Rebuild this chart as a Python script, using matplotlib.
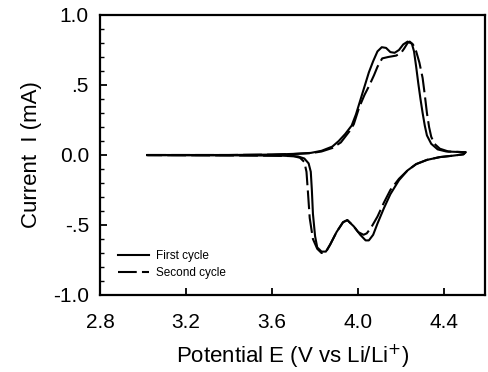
import matplotlib
matplotlib.use("Agg")
import matplotlib.pyplot as plt
from matplotlib.ticker import FixedLocator, FixedFormatter, MultipleLocator

# ---- data ----
E_first = [3.02, 3.20, 3.40, 3.60, 3.70, 3.78, 3.83, 3.88, 3.91, 3.94, 3.97, 3.99,
           4.01, 4.03, 4.05, 4.07, 4.09, 4.11, 4.13, 4.15, 4.17, 4.19, 4.21, 4.23,
           4.25, 4.26, 4.27, 4.28, 4.29, 4.30, 4.31, 4.32, 4.34, 4.37, 4.41, 4.46, 4.50,
           4.49, 4.44, 4.38, 4.32, 4.27, 4.23, 4.19, 4.15, 4.12, 4.09, 4.07, 4.05, 4.035,
           4.01, 3.98, 3.95, 3.93, 3.90, 3.87, 3.85, 3.83, 3.81, 3.80, 3.79, 3.785, 3.78,
           3.77, 3.75, 3.72, 3.65, 3.50, 3.30, 3.02]
I_first = [0.0, 0.0, 0.0, 0.003, 0.008, 0.015, 0.03, 0.06, 0.10, 0.15, 0.21, 0.29,
           0.39, 0.49, 0.59, 0.67, 0.74, 0.77, 0.765, 0.735, 0.73, 0.75, 0.79, 0.81,
           0.795, 0.74, 0.63, 0.51, 0.40, 0.30, 0.21, 0.14, 0.08, 0.04, 0.025, 0.022, 0.02,
           0.005, -0.005, -0.015, -0.035, -0.065, -0.11, -0.18, -0.28, -0.38, -0.49, -0.57, -0.61, -0.61,
           -0.57, -0.51, -0.465, -0.48, -0.55, -0.64, -0.69, -0.69, -0.66, -0.58, -0.42, -0.25, -0.12,
           -0.06, -0.025, -0.01, -0.005, -0.003, -0.002, -0.001]

E_second = [3.02, 3.20, 3.40, 3.60, 3.70, 3.78, 3.83, 3.88, 3.92, 3.96, 3.98, 4.005,
            4.03, 4.05, 4.074, 4.09, 4.112, 4.14, 4.177, 4.20, 4.214, 4.23, 4.24,
            4.255, 4.27, 4.285, 4.30, 4.31, 4.32, 4.33, 4.34, 4.355, 4.38, 4.42, 4.50,
            4.49, 4.44, 4.38, 4.32, 4.27, 4.23, 4.19, 4.15, 4.12, 4.09, 4.06, 4.04, 4.025,
            4.00, 3.98, 3.95, 3.93, 3.90, 3.87, 3.85, 3.83, 3.81, 3.79, 3.775, 3.767, 3.76,
            3.75, 3.73, 3.70, 3.60, 3.40, 3.02]
I_second = [0.0, 0.0, 0.0, 0.003, 0.007, 0.013, 0.025, 0.05, 0.09, 0.17, 0.22, 0.34,
            0.43, 0.49, 0.57, 0.63, 0.69, 0.70, 0.71, 0.73, 0.76, 0.80, 0.81,
            0.79, 0.74, 0.66, 0.55, 0.43, 0.30, 0.20, 0.13, 0.08, 0.045, 0.025, 0.02,
            0.005, -0.005, -0.015, -0.035, -0.065, -0.11, -0.17, -0.25, -0.34, -0.44, -0.52, -0.56, -0.57,
            -0.55, -0.51, -0.465, -0.48, -0.55, -0.64, -0.695, -0.70, -0.67, -0.60, -0.45, -0.27, -0.12,
            -0.05, -0.02, -0.008, -0.005, -0.003, -0.001]

x_ticks = [2.8, 3.2, 3.6, 4.0, 4.4]
x_tick_labels = ["2.8", "3.2", "3.6", "4.0", "4.4"]
y_ticks = [-1.0, -0.5, 0.0, 0.5, 1.0]
y_tick_labels = ["-1.0", "-.5", "0.0", ".5", "1.0"]
series_labels = ["First cycle", "Second cycle"]

plt.rcParams['font.family'] = ['Liberation Sans', 'DejaVu Sans']

fig = plt.figure(figsize=(4.89, 3.72), dpi=100)
ax = fig.add_axes([100/489, 1 - 295/372, 385/489, 280/372])

ax.plot(E_first, I_first, color='black', lw=1.5, solid_joinstyle='round',
        label=series_labels[0])
ax.plot(E_second, I_second, color='black', lw=1.5, dashes=(9, 2.5),
        label=series_labels[1])

ax.set_xlim(2.8, 4.59)
ax.set_ylim(-1.0, 1.0)

ax.xaxis.set_major_locator(FixedLocator(x_ticks))
ax.xaxis.set_major_formatter(FixedFormatter(x_tick_labels))
ax.yaxis.set_major_locator(FixedLocator(y_ticks))
ax.yaxis.set_major_formatter(FixedFormatter(y_tick_labels))
ax.yaxis.set_minor_locator(MultipleLocator(0.1))

for s in ax.spines.values():
    s.set_linewidth(1.6)

ax.tick_params(axis='both', which='major', direction='in', length=5, width=1.3,
               labelsize=15, top=False, right=False)
ax.tick_params(axis='x', which='major', pad=13)
ax.tick_params(axis='y', which='major', pad=8)
ax.tick_params(axis='y', which='minor', direction='in', length=3, width=1.0, right=False)

ax.set_xlabel("Potential E (V vs Li/Li$^{+}$)", fontsize=16, labelpad=8)
ax.set_ylabel("Current  I (mA)", fontsize=16, labelpad=8)

leg = ax.legend(loc='lower left', bbox_to_anchor=(0.02, 0.02), frameon=False,
                fontsize=8.5, handlelength=2.6, handletextpad=0.6, labelspacing=0.4)

fig.savefig("out.png", dpi=100)
